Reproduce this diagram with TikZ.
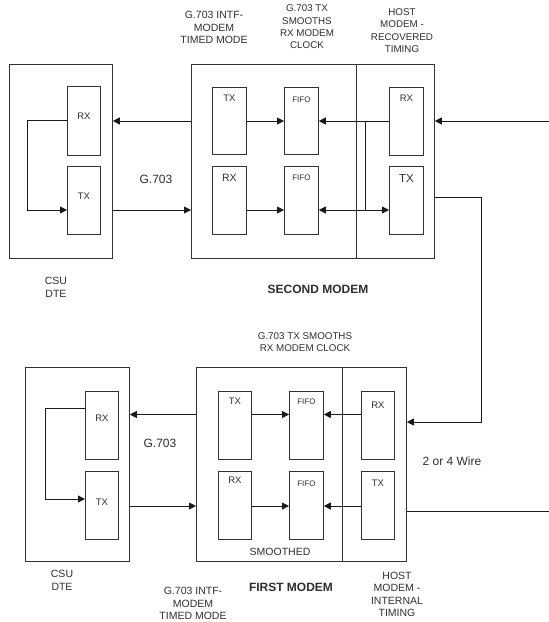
\documentclass[tikz,border=0pt]{standalone}
\usepackage{fontspec}
\setmainfont{Liberation Sans}
\usetikzlibrary{arrows.meta,calc}
\definecolor{linedark}{HTML}{1A1A1A}
\definecolor{boxgray}{HTML}{333333}
\definecolor{textgray}{HTML}{2E2E2E}
\tikzset{
  every node/.append style={text=textgray},
  frame/.style={draw=boxgray,rectangle,inner sep=0pt,anchor=north west,minimum height=194pt},
  unit/.style={draw=boxgray,rectangle,inner sep=0pt,anchor=north west,minimum width=33pt,minimum height=68pt},
  tag/.style={font=\fontsize{9.5}{11}\selectfont,inner sep=0pt,anchor=north},
  fifotag/.style={font=\fontsize{8}{9}\selectfont,inner sep=0pt,anchor=north},
  note/.style={font=\fontsize{10.5}{12.4}\selectfont,align=center,inner sep=0pt},
  smallnote/.style={font=\fontsize{9.8}{12.3}\selectfont,align=center,inner sep=0pt},
  bignote/.style={font=\fontsize{12}{14}\selectfont,inner sep=0pt},
  title/.style={font=\fontsize{12}{14}\selectfont\bfseries,inner sep=0pt},
  arr/.style={-{Triangle[length=7pt,width=7pt]}},
}

\begin{document}
\begin{tikzpicture}[x=1pt,y=-1pt,line width=0.8pt,color=linedark]
  \useasboundingbox (0,0) rectangle (549,622);
  \coordinate (upA) at (0,121);  \coordinate (lowA) at (0,210);
  \coordinate (upB) at (0,414.5); \coordinate (lowB) at (0,506);

  % second modem
  \node[frame,minimum width=103pt] (csuA) at (9,64) {};
  \node[unit,minimum height=69pt,label={[tag,yshift=-26.6pt]north:RX}] (csuArx) at (67,86) {};
  \node[unit,label={[tag,yshift=-26.6pt]north:TX}] (csuAtx) at (67,166) {};
  \node[frame,minimum width=165pt] (modAleft) at (191,64) {};
  \node[frame,minimum width=78pt] (modAhost) at (356,64) {};
  \node[unit,minimum width=34pt,minimum height=67pt,label={[tag,yshift=-7.6pt]north:TX}] (modAtx) at (212,87) {};
  \node[unit,minimum width=34pt,label={[tag,font=\fontsize{10.5}{12}\selectfont,yshift=-8pt]north:RX}] (modArx) at (212,166) {};
  \node[unit,minimum width=34pt,minimum height=67pt,label={[fifotag,yshift=-9.2pt]north:FIFO}] (fifoA1) at (284,87) {};
  \node[unit,minimum width=34pt,label={[fifotag,yshift=-8.2pt]north:FIFO}] (fifoA2) at (284,166) {};
  \node[unit,minimum width=34pt,label={[tag,yshift=-7.6pt]north:RX}] (hostArx) at (389,87) {};
  \node[unit,minimum width=34pt,label={[tag,font=\fontsize{11.5}{13}\selectfont,yshift=-8pt]north:TX}] (hostAtx) at (389,166) {};

  \draw[arr] (modAleft.west |- upA) -- (csuA.east |- upA);
  \draw[arr] (csuA.east |- lowA) -- (modAleft.west |- lowA);
  \draw[arr] (csuArx.west |- 0,120) -- ++(-40,0) |- (csuAtx.west |- lowA);
  \draw[arr] (modAtx.east |- upA) -- (fifoA1.west |- upA);
  \draw[arr] (modArx.east |- lowA) -- (fifoA2.west |- lowA);
  \draw[arr] (hostArx.west |- upA) -- (fifoA1.east |- upA);
  \coordinate (jA) at (365,121);
  \draw[arr] (jA) |- (hostAtx.west |- lowA);
  \draw[arr] (jA |- lowA) -- (fifoA2.east |- lowA);
  \coordinate (inA) at (549,121);
  \draw[arr] (inA) -- (modAhost.east |- inA);
  \coordinate (bendA) at (481,197);
  \coordinate (inB) at (0,422);

  \node[note] (intfA) at (214,27.5) {G.703 INTF-\\MODEM\\TIMED MODE};
  \node[smallnote] (smoothA) at (307,27) {G.703 TX\\SMOOTHS\\RX MODEM\\CLOCK};
  \node[smallnote] (hostAnote) at (402,30.5) {HOST\\MODEM -\\RECOVERED\\TIMING};
  \node[bignote] (gA) at (156,179) {G.703};
  \node[note] (csuAnote) at (56,287.5) {CSU\\DTE};
  \node[title] (secondA) at (318,289) {SECOND MODEM};

  % first modem
  \node[frame,minimum width=104pt] (csuB) at (25,367) {};
  \node[unit,label={[tag,yshift=-23.6pt]north:RX}] (csuBrx) at (85,391) {};
  \node[unit,label={[tag,yshift=-27.6pt]north:TX}] (csuBtx) at (85,471) {};
  \node[frame,minimum width=146pt] (modBleft) at (196,367) {};
  \node[frame,minimum width=64pt] (modBhost) at (342,367) {};
  \node[unit,label={[tag,yshift=-6.6pt]north:TX}] (modBtx) at (218,391) {};
  \node[unit,label={[tag,yshift=-5.6pt]north:RX}] (modBrx) at (218,471) {};
  \node[unit,minimum width=34pt,label={[fifotag,yshift=-7.6pt]north:FIFO}] (fifoB1) at (289,391) {};
  \node[unit,minimum width=34pt,label={[fifotag,yshift=-9.6pt]north:FIFO}] (fifoB2) at (289,471) {};
  \node[unit,label={[tag,yshift=-10.6pt]north:RX}] (hostBrx) at (361,391) {};
  \node[unit,label={[tag,yshift=-8.6pt]north:TX}] (hostBtx) at (361,471) {};

  \draw[arr] (modBleft.west |- upB) -- (csuB.east |- upB);
  \draw[arr] (csuB.east |- lowB) -- (modBleft.west |- lowB);
  \draw[arr] ($(csuBrx.north west)+(0,17)$) -- ++(-40,0) |- ($(csuBtx.north west)+(0,28)$);
  \draw[arr] (modBtx.east |- upB) -- (fifoB1.west |- upB);
  \draw[arr] (modBrx.east |- lowB) -- (fifoB2.west |- lowB);
  \draw[arr] (hostBrx.west |- upB) -- (fifoB1.east |- upB);
  \draw[arr] (hostBtx.west |- lowB) -- (fifoB2.east |- lowB);
  \draw[arr] (modAhost.east |- bendA) -- (bendA) |- (modBhost.east |- inB);
  \coordinate (outB) at (549,511);
  \draw (modBhost.east |- outB) -- (outB);

  \node[smallnote] (smoothB) at (305,342) {G.703 TX SMOOTHS\\RX MODEM CLOCK};
  \node[bignote] (gB) at (160,443) {G.703};
  \node[bignote] (wireB) at (452,461) {2 or 4 Wire};
  \node[note] (smoothed) at (280,551.5) {SMOOTHED};
  \node[note] (csuBnote) at (62,580.5) {CSU\\DTE};
  \node[title] (firstB) at (291,587) {FIRST MODEM};
  \node[note] (intfB) at (193,603.5) {G.703 INTF-\\MODEM\\TIMED MODE};
  \node[note] (hostBnote) at (397,594.5) {HOST\\MODEM -\\INTERNAL\\TIMING};
\end{tikzpicture}
\end{document}
